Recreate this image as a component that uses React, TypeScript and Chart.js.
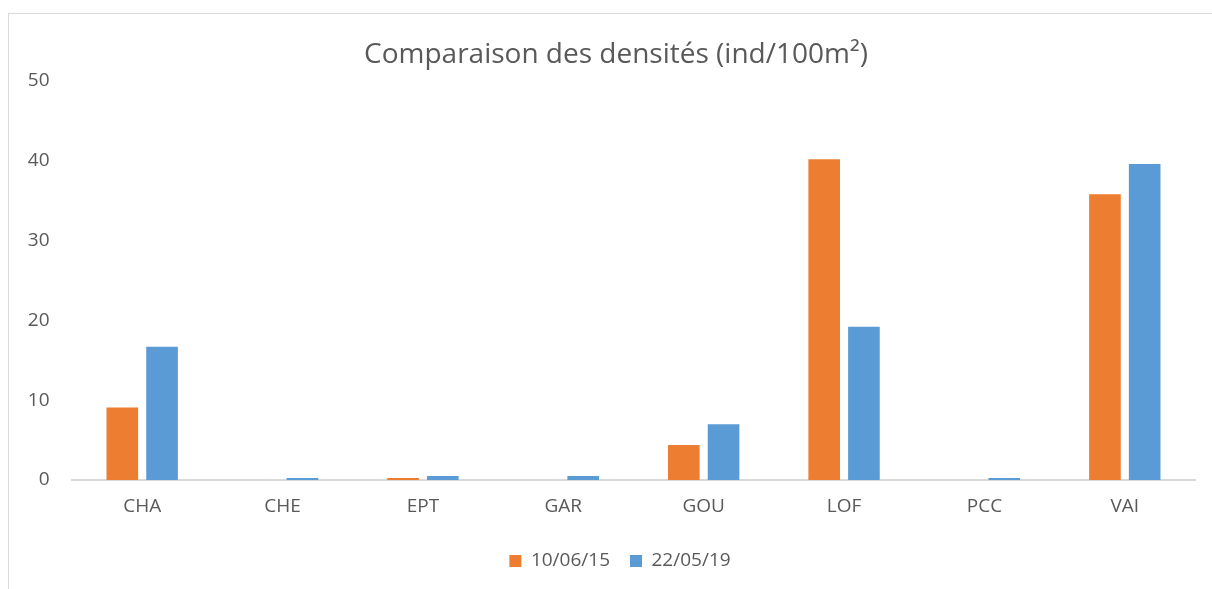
import React, { useEffect, useRef } from "react";
import { Chart, registerables } from "chart.js";

Chart.register(...registerables);

const categories = ["CHA", "CHE", "EPT", "GAR", "GOU", "LOF", "PCC", "VAI"];
const series2015 = [9.1, 0, 0.25, 0, 4.4, 40.2, 0, 35.8];
const series2019 = [16.7, 0.25, 0.5, 0.5, 7.0, 19.2, 0.25, 39.6];
const seriesLabels = ["10/06/15", "22/05/19"];
const titleText = "Comparaison des densités (ind/100m²)";
const yTicks = [0, 10, 20, 30, 40, 50];

const FONT = "'Open Sans', 'Noto Sans', sans-serif";
const TEXT = "#595959";

const shiftPlugin = {
  id: "shiftBoxes",
  afterLayout(chart: any) {
    const t = chart.titleBlock;
    if (t) {
      t.left += 8.5;
      t.right += 8.5;
    }
    const l = chart.legend;
    if (l) {
      l.left += 12.5;
      l.right += 12.5;
    }
  },
};

export default function App() {
  const ref = useRef<HTMLCanvasElement | null>(null);

  useEffect(() => {
    if (!ref.current) return;
    const chart = new Chart(ref.current, {
      type: "bar",
      data: {
        labels: categories,
        datasets: [
          {
            label: seriesLabels[0],
            data: series2015,
            backgroundColor: "#ED7D31",
            categoryPercentage: 0.566,
            barPercentage: 0.796,
          },
          {
            label: seriesLabels[1],
            data: series2019,
            backgroundColor: "#5B9BD5",
            categoryPercentage: 0.566,
            barPercentage: 0.796,
          },
        ],
      },
      plugins: [shiftPlugin],
      options: {
        responsive: false,
        animation: false,
        devicePixelRatio: 1,
        layout: { padding: { left: 20, right: 17, top: 0, bottom: 8.5 } },
        plugins: {
          title: {
            display: true,
            text: titleText,
            color: TEXT,
            font: { family: FONT, size: 28, weight: "normal" },
            padding: { top: 38.2, bottom: 9.2 },
          },
          legend: {
            display: true,
            position: "bottom",
            labels: {
              boxWidth: 12,
              boxHeight: 12,
              padding: 20,
              color: TEXT,
              font: { family: FONT, size: 19 },
            },
          },
          tooltip: { enabled: false },
        },
        scales: {
          x: {
            grid: { display: false, drawTicks: false },
            border: { display: true, color: "#d9d9d9", width: 2 },
            ticks: {
              color: TEXT,
              font: { family: FONT, size: 19 },
              padding: 15.5,
              maxRotation: 0,
            },
            afterFit: (scale: any) => {
              scale.height = 51.5;
            },
          },
          y: {
            min: 0,
            max: 50,
            grid: { display: false, drawTicks: false },
            border: { display: false },
            afterBuildTicks: (scale: any) => {
              scale.ticks = yTicks.map((v) => ({ value: v }));
            },
            ticks: {
              color: TEXT,
              font: { family: FONT, size: 19 },
              padding: 22.5,
            },
            afterFit: (scale: any) => {
              scale.width = 52;
            },
          },
        },
      },
    });
    return () => chart.destroy();
  }, []);

  return (
    <div
      style={{
        position: "fixed",
        left: 0,
        top: 0,
        width: 1212,
        height: 589,
        overflow: "hidden",
        background: "#fff",
      }}
    >
      <canvas ref={ref} width={1212} height={589} style={{ position: "absolute", left: 0, top: 0 }} />
      <div
        style={{
          position: "absolute",
          left: 8,
          top: 13,
          width: 1300,
          height: 700,
          borderTop: "1px solid #d9d9d9",
          borderLeft: "1px solid #d9d9d9",
          pointerEvents: "none",
        }}
      />
    </div>
  );
}
